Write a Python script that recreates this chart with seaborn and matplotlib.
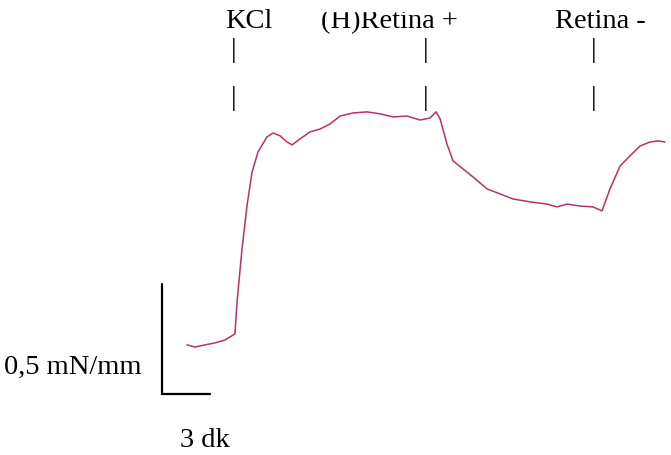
import numpy as np
import pandas as pd
import matplotlib
matplotlib.use("Agg")
import matplotlib.pyplot as plt
import seaborn as sns
from matplotlib.patches import Rectangle

# Trace: time (dk) from start, tension (mN/mm) above baseline
time_min = [0.06, 0.56, 1.19, 1.81, 2.44, 3.06, 3.19, 3.5, 3.81, 4.13, 4.5, 5.06, 5.44,
            5.88, 6.31, 6.63, 7.13, 7.75, 8.38, 9.0, 9.63, 10.44, 11.31, 12.13, 12.94,
            13.81, 14.63, 15.25, 15.63, 15.88, 16.31, 16.69, 17.31, 17.94, 18.81, 19.63,
            20.44, 21.5, 22.56, 23.19, 23.81, 24.63, 25.44, 26.0, 26.5, 27.13, 27.75,
            28.38, 29.0, 29.5, 29.94]
tension = [0.005, -0.005, 0.005, 0.014, 0.027, 0.055, 0.2, 0.441, 0.636, 0.791, 0.882,
           0.95, 0.968, 0.955, 0.927, 0.914, 0.941, 0.973, 0.986, 1.009, 1.045, 1.059,
           1.064, 1.055, 1.041, 1.045, 1.027, 1.036, 1.064, 1.032, 0.918, 0.841, 0.805,
           0.768, 0.714, 0.691, 0.668, 0.655, 0.645, 0.632, 0.645, 0.636, 0.632, 0.614,
           0.714, 0.818, 0.864, 0.909, 0.927, 0.932, 0.927]

# drug additions
event_labels = ["KCl", "(H)Retina +", "Retina -"]
event_times = [3.0, 15.0, 25.5]
label_x = [3.94, 12.69, 25.9]

# scale bar
bar_time = 3.0        # dk
bar_tension = 0.5     # mN/mm

df = pd.DataFrame({"time": time_min, "tension": tension})

sns.set_style("white")
plt.rcParams["font.family"] = ["Liberation Serif", "DejaVu Serif"]
plt.rcParams["text.color"] = "black"

fig = plt.figure(figsize=(6.71, 4.56), dpi=100)
ax = fig.add_axes([0, 0, 1, 1])

sns.lineplot(data=df, x="time", y="tension", ax=ax, color="#b8306c", linewidth=1.1)

ax.set_xlim(-11.625, 30.3125)
ax.set_ylim(-0.4955, 1.577)
ax.axis("off")

fs = 20.5
xt = ax.get_xaxis_transform()
for lab, t, lx in zip(event_labels, event_times, label_x):
    ax.text(lx, 0.953, lab, transform=xt, ha="center", va="center", fontsize=fs)
    ax.text(t, 0.89, "|", transform=xt, ha="center", va="center", fontsize=fs)
    ax.text(t, 0.785, "|", transform=xt, ha="center", va="center", fontsize=fs)

# top of the middle label is cut off in the original
fig.patches.append(Rectangle((300 / 671, 1 - 12 / 456), 180 / 671, 12 / 456,
                             transform=fig.transFigure, color="white", zorder=10))

# scale bar
x0, y0 = -1.5, -0.218
ax.plot([x0, x0], [y0, y0 + bar_tension], color="black", linewidth=1.6)
ax.plot([x0, x0 + bar_time], [y0, y0], color="black", linewidth=1.6)
ax.text(-2.75, -0.095, "0,5 mN/mm", ha="right", va="center", fontsize=fs)
ax.text(1.19, -0.423, "3 dk", ha="center", va="center", fontsize=fs)

fig.savefig("out.png", dpi=100)
